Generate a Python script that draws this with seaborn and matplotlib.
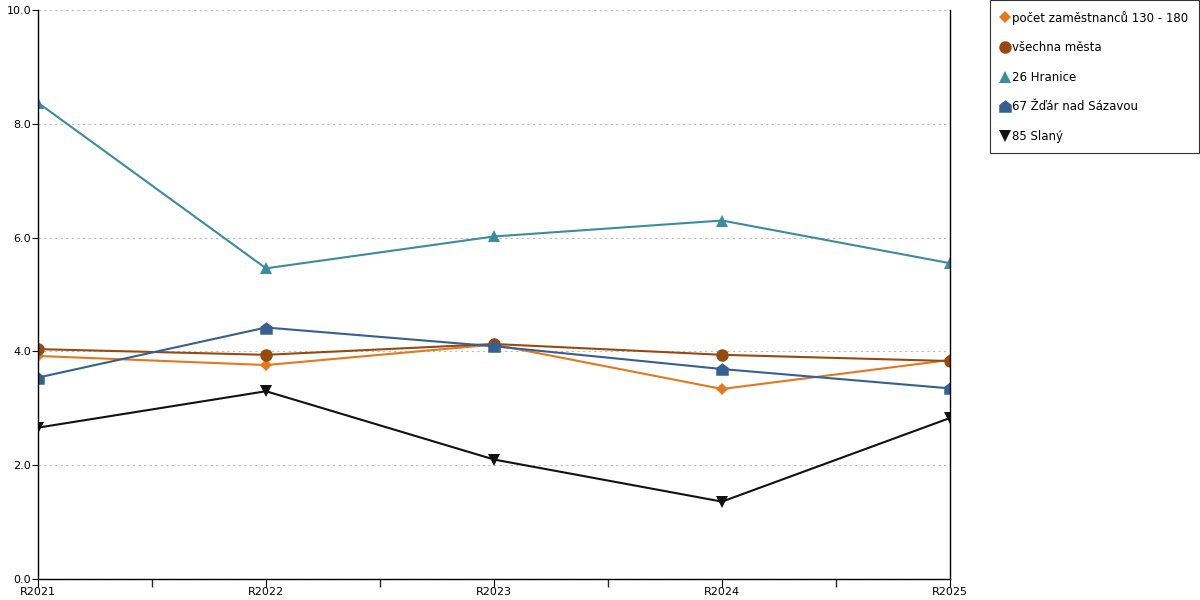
"""Recreate the line chart of yearly values for selected towns."""

import matplotlib.pyplot as plt
import pandas as pd
import seaborn as sns
from matplotlib.lines import Line2D

YEARS = ["R2021", "R2022", "R2023", "R2024", "R2025"]

SERIES_NAMES = [
    "počet zaměstnanců 130 - 180",
    "všechna města",
    "26 Hranice",
    "67 Žďár nad Sázavou",
    "85 Slaný",
]

POCET = [3.92, 3.76, 4.12, 3.34, 3.85]
VSECHNA = [4.04, 3.94, 4.13, 3.94, 3.83]
HRANICE = [8.37, 5.46, 6.02, 6.30, 5.55]
ZDAR = [3.54, 4.42, 4.09, 3.69, 3.35]
SLANY = [2.66, 3.30, 2.10, 1.36, 2.83]

COLORS = ["#e3781c", "#974a0e", "#3b8ca0", "#365f92", "#111111"]
HOUSE = [(-1, -1), (1, -1), (1, 0.25), (0, 1), (-1, 0.25), (-1, -1)]
MARKERS = ["D", "o", "^", HOUSE, "v"]
SIZES = [6, 9, 8, 9, 9]

sns.set_theme(style="white")
plt.rcParams["font.family"] = ["DejaVu Sans"]
plt.rcParams["text.color"] = "black"

frame = pd.DataFrame(
    {
        "year": YEARS * 5,
        "value": POCET + VSECHNA + HRANICE + ZDAR + SLANY,
        "series": [name for name in SERIES_NAMES for _ in YEARS],
    }
)
frame["x"] = frame["year"].map({y: i for i, y in enumerate(YEARS)})

fig = plt.figure(figsize=(12, 6), dpi=100)
ax = fig.add_axes([38 / 1200, 21 / 600, 912 / 1200, 569 / 600])

for name, color, marker, size in zip(SERIES_NAMES, COLORS, MARKERS, SIZES):
    sub = frame[frame["series"] == name]
    sns.lineplot(
        data=sub, x="x", y="value", ax=ax, color=color,
        linewidth=1.5, marker=marker, markersize=size,
        markeredgewidth=0, legend=False,
    )

ax.set_xlim(0, 4)
ax.set_ylim(0, 10)
ax.set_xticks(range(len(YEARS)))
ax.set_xticklabels(YEARS)
ax.set_xticks([0.5, 1.5, 2.5, 3.5], minor=True)
ax.set_yticks([0, 2, 4, 6, 8, 10])
ax.set_yticklabels(["0.0", "2.0", "4.0", "6.0", "8.0", "10.0"])
ax.set_xlabel("")
ax.set_ylabel("")
ax.grid(axis="y", color="#bbbbbb", linestyle=(0, (2, 3)), linewidth=0.8)
ax.tick_params(axis="both", labelsize=8, colors="black", length=5,
               width=0.8, direction="out", pad=1)
ax.tick_params(axis="x", which="both", bottom=True, length=6, pad=0)
ax.tick_params(axis="y", left=True, length=4)
for side in ["left", "bottom", "right"]:
    ax.spines[side].set_color("black")
    ax.spines[side].set_linewidth(1)
ax.spines["top"].set_visible(False)

handles = [
    Line2D([], [], color=c, marker=m, linestyle="none", markersize=s,
           markeredgewidth=0)
    for c, m, s in zip(COLORS, MARKERS, SIZES)
]
leg = fig.legend(
    handles, SERIES_NAMES, loc="upper right",
    bbox_to_anchor=(1199 / 1200, 1.0), frameon=True, fontsize=8.5,
    labelspacing=1.4, handletextpad=0.2, handlelength=0.8,
    borderpad=0.9, borderaxespad=0, fancybox=False,
)
leg.get_frame().set_edgecolor("black")
leg.get_frame().set_linewidth(0.8)
for text in leg.get_texts():
    text.set_color("black")

fig.savefig("out.png", dpi=100)
